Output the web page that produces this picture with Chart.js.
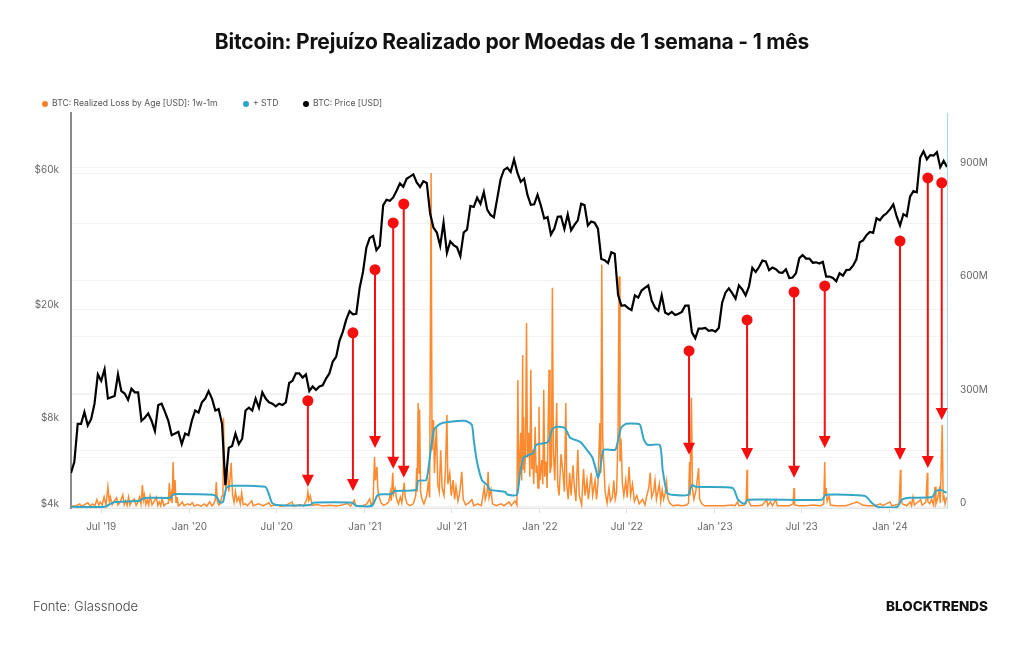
<!DOCTYPE html>
<html lang="pt">
<head>
<meta charset="UTF-8" />
<title>Bitcoin: Prejuízo Realizado por Moedas de 1 semana - 1 mês</title>
<script src="https://cdn.jsdelivr.net/npm/chart.js"></script>
<style>
  body { margin: 0; background: #fff; font-family: Inter, "Noto Sans", sans-serif; }
  #wrap { position: relative; width: 1024px; height: 645px; overflow: hidden; }
  #chart { position: absolute; left: 0; top: 0; }
  #title { position: absolute; top: 29px; left: 0; width: 1024px; text-align: center;
           font-size: 21px; font-weight: 700; color: #111; letter-spacing: -0.2px; }
  .leg { position: absolute; top: 98px; font-size: 8.6px; color: #555; white-space: nowrap; line-height: 10px; }
  .leg i { display: inline-block; width: 6px; height: 6px; border-radius: 50%; margin-right: 4px; vertical-align: -0.5px; }
  #source { position: absolute; left: 33px; top: 598px; font-size: 13px; color: #444; font-weight: 300; }
  #brand { position: absolute; right: 36px; top: 598px; font-size: 13.5px; color: #111; font-weight: 800; }
</style>
</head>
<body>
<div id="wrap">
  <canvas id="chart" width="1024" height="645"></canvas>
  <div id="title">Bitcoin: Prejuízo Realizado por Moedas de 1 semana - 1 mês</div>
  <div class="leg" style="left:42px"><i style="background:#f7822d"></i>BTC: Realized Loss by Age [USD]: 1w-1m</div>
  <div class="leg" style="left:243px"><i style="background:#2fa3c5"></i>+ STD</div>
  <div class="leg" style="left:303px"><i style="background:#000"></i>BTC: Price [USD]</div>
  <div id="source">Fonte: Glassnode</div>
  <div id="brand">BLOCKTRENDS</div>
</div>

<script>
// BTC price, weekly from 2019-04-29 (USD)
const priceStart = '2019-04-29';
const priceStepDays = 7;
const price = [
  5300, 5800, 7900, 7900, 8700, 7800, 8200, 9300, 11800, 11200, 12300, 9700, 9800, 9900,
  11800, 10300, 10100, 9600, 10500, 10200, 10200, 8100, 8300, 8600, 8100, 7450, 9200,
  9300, 8700, 8100, 7200, 7300, 7400, 6700, 7300,
  // 2020
  7200, 8100, 8800, 8650, 9400, 9700, 10300, 9700, 8800, 8900, 7900, 4800, 6500, 6600,
  7300, 6700, 7000, 8800, 9000, 8800, 9700, 9000, 10200, 9700, 9400, 9300, 9100,
  9300, 9200, 9400, 11000, 11200, 11900, 11900, 11500, 11800, 10300, 10700, 10400, 10700,
  10800, 11400, 11900, 13100, 13600, 15500, 16700, 18400, 19700, 19200, 19300, 23800, 27100,
  // 2021
  33000, 35700, 36300, 32300, 33500, 46500, 48700, 48300, 49600, 52400, 55600, 54100, 57700,
  58700, 59800, 56000, 54000, 56600, 55800, 43500, 38800, 37300, 33500, 40500, 31600, 34700,
  33700, 33100, 30800, 37300, 38200, 46300, 45900, 49500, 47100, 51800, 44900, 43000, 42200,
  49200, 57500, 62000, 63100, 61000, 67500, 60600, 56300, 57800, 50600, 46700, 46900, 50700,
  // 2022
  46400, 41800, 42300, 36700, 38500, 42400, 42500, 38400, 43200, 38000, 39700, 41200, 47100,
  46600, 39500, 40800, 40400, 38500, 30100, 29800, 29100, 31800, 31400, 22500, 20600, 20700,
  20200, 19900, 22400, 22000, 23300, 23800, 24300, 21500, 20300, 19800, 22400, 19500, 19200,
  19600, 19100, 19300, 19600, 20600, 20600, 16600, 15800, 17100, 17100, 17200, 16800, 16900,
  // 2023
  16700, 17200, 21100, 22900, 23700, 22800, 21800, 24300, 23500, 22400, 24100, 28000, 27100,
  28200, 29700, 29500, 27500, 28100, 27700, 27000, 26900, 27700, 25800, 25900, 26800, 30300,
  31100, 30200, 30200, 29200, 29300, 29000, 29400, 26100, 26100, 25800, 25100, 26800, 26300,
  27500, 27600, 28500, 30000, 34500, 35000, 36500, 37500, 37200, 41900, 41200, 42700, 43600,
  // 2024
  45000, 46900, 42500, 39500, 43300, 42600, 49900, 52200, 51700, 68400, 72100, 67600, 69900,
  69700, 71600, 63400, 66800, 63500
];

// Realized loss by age 1w-1m (USD millions), [date, value]
const lossPoints = [
  ['2019-04-29',2],['2019-05-10',3],['2019-05-17',8],['2019-05-21',2],['2019-05-26',5],['2019-06-03',11],
  ['2019-06-08',3],['2019-06-13',8],['2019-06-18',3],['2019-06-22',19],['2019-06-26',5],['2019-06-29',13],
  ['2019-07-03',5],['2019-07-07',26],['2019-07-11',5],['2019-07-15',53],['2019-07-18',14],['2019-07-20',26],
  ['2019-07-24',6],['2019-07-27',13],['2019-08-02',24],['2019-08-05',5],['2019-08-09',11],['2019-08-15',32],
  ['2019-08-18',6],['2019-08-21',16],['2019-08-24',4],['2019-08-27',26],['2019-08-30',5],['2019-09-02',13],
  ['2019-09-08',21],['2019-09-12',4],['2019-09-15',11],['2019-09-19',26],['2019-09-22',8],['2019-09-25',58],
  ['2019-09-27',18],['2019-09-29',32],['2019-10-02',6],['2019-10-05',19],['2019-10-08',5],['2019-10-11',29],
  ['2019-10-15',5],['2019-10-18',11],['2019-10-24',26],['2019-10-27',4],['2019-10-30',13],['2019-11-02',3],
  ['2019-11-05',21],['2019-11-09',3],['2019-11-13',8],['2019-11-18',10],['2019-11-20',64],['2019-11-22',15],
  ['2019-11-24',34],['2019-11-26',10],['2019-11-28',119],['2019-11-30',30],['2019-12-02',71],['2019-12-04',12],
  ['2019-12-06',26],['2019-12-09',3],['2019-12-12',5],['2019-12-17',13],['2019-12-21',3],['2019-12-28',8],
  ['2020-01-02',5],['2020-01-07',11],['2020-01-11',2],['2020-01-18',6],['2020-01-25',2],['2020-02-01',8],
  ['2020-02-06',2],['2020-02-12',13],['2020-02-17',3],['2020-02-21',8],['2020-02-24',20],['2020-02-26',66],
  ['2020-02-28',16],['2020-03-02',5],['2020-03-05',8],['2020-03-09',29],['2020-03-11',40],['2020-03-12',236],
  ['2020-03-14',90],['2020-03-17',48],['2020-03-20',110],['2020-03-23',40],['2020-03-26',80],['2020-03-28',117],
  ['2020-03-31',32],['2020-04-03',12],['2020-04-06',40],['2020-04-09',15],['2020-04-13',26],['2020-04-16',8],
  ['2020-04-19',37],['2020-04-22',6],['2020-04-27',8],['2020-05-01',3],['2020-05-10',16],['2020-05-13',3],
  ['2020-05-24',8],['2020-06-03',3],['2020-06-15',11],['2020-06-19',2],['2020-06-28',6],['2020-07-10',2],
  ['2020-07-20',4],['2020-08-02',13],['2020-08-05',2],['2020-08-19',6],['2020-08-26',2],['2020-09-02',20],
  ['2020-09-04',40],['2020-09-06',18],['2020-09-09',29],['2020-09-13',4],['2020-09-24',6],['2020-10-05',2],
  ['2020-10-20',4],['2020-11-03',2],['2020-11-26',9],['2020-12-02',2],['2020-12-10',18],['2020-12-13',2],
  ['2020-12-28',3],['2021-01-05',8],['2021-01-11',21],['2021-01-14',5],['2021-01-18',13],['2021-01-21',132],
  ['2021-01-23',70],['2021-01-26',106],['2021-01-28',45],['2021-01-31',24],['2021-02-04',10],['2021-02-09',4],
  ['2021-02-15',8],['2021-02-20',13],['2021-02-23',40],['2021-02-25',16],['2021-02-28',90],['2021-03-02',35],
  ['2021-03-05',48],['2021-03-08',21],['2021-03-12',8],['2021-03-16',26],['2021-03-19',11],['2021-03-24',64],
  ['2021-03-26',25],['2021-03-30',8],['2021-04-05',3],['2021-04-12',8],['2021-04-17',30],['2021-04-19',103],
  ['2021-04-20',40],['2021-04-22',275],['2021-04-24',90],['2021-04-25',258],['2021-04-27',40],['2021-04-30',20],
  ['2021-05-04',8],['2021-05-10',30],['2021-05-13',64],['2021-05-16',25],['2021-05-19',884],['2021-05-21',150],
  ['2021-05-24',230],['2021-05-26',90],['2021-05-30',212],['2021-06-02',60],['2021-06-05',40],['2021-06-08',150],
  ['2021-06-11',50],['2021-06-15',30],['2021-06-18',100],['2021-06-21',244],['2021-06-23',60],['2021-06-27',90],
  ['2021-06-30',30],['2021-07-04',71],['2021-07-07',20],['2021-07-10',53],['2021-07-14',15],['2021-07-18',40],
  ['2021-07-22',93],['2021-07-25',20],['2021-07-30',5],['2021-08-05',10],['2021-08-12',19],['2021-08-16',3],
  ['2021-08-24',8],['2021-09-01',3],['2021-09-07',53],['2021-09-09',20],['2021-09-13',40],['2021-09-15',93],
  ['2021-09-17',25],['2021-09-21',45],['2021-09-24',8],['2021-10-02',3],['2021-10-12',8],['2021-10-18',3],
  ['2021-10-29',13],['2021-11-02',3],['2021-11-10',16],['2021-11-14',5],['2021-11-16',336],['2021-11-18',60],
  ['2021-11-20',120],['2021-11-22',196],['2021-11-24',70],['2021-11-26',402],['2021-11-27',100],['2021-11-28',238],
  ['2021-11-30',90],['2021-12-02',150],['2021-12-04',487],['2021-12-06',130],['2021-12-09',196],['2021-12-11',80],
  ['2021-12-13',363],['2021-12-15',100],['2021-12-17',151],['2021-12-19',60],['2021-12-22',212],['2021-12-24',90],
  ['2021-12-26',110],['2021-12-28',50],['2021-12-30',265],['2022-01-01',70],['2022-01-05',124],['2022-01-07',60],
  ['2022-01-09',310],['2022-01-11',80],['2022-01-14',120],['2022-01-16',50],['2022-01-20',363],['2022-01-22',90],
  ['2022-01-25',110],['2022-01-27',580],['2022-01-29',150],['2022-02-01',70],['2022-02-05',275],['2022-02-07',60],
  ['2022-02-10',30],['2022-02-14',140],['2022-02-18',90],['2022-02-21',40],['2022-02-24',275],['2022-02-26',60],
  ['2022-03-01',20],['2022-03-04',90],['2022-03-07',30],['2022-03-11',110],['2022-03-14',50],['2022-03-17',15],
  ['2022-03-21',151],['2022-03-24',30],['2022-03-29',5],['2022-04-02',100],['2022-04-05',30],['2022-04-09',70],
  ['2022-04-12',20],['2022-04-18',90],['2022-04-21',30],['2022-04-26',70],['2022-04-29',20],['2022-05-02',60],
  ['2022-05-06',222],['2022-05-08',90],['2022-05-10',641],['2022-05-12',180],['2022-05-14',120],['2022-05-17',40],
  ['2022-05-21',10],['2022-05-25',50],['2022-05-28',15],['2022-06-01',25],['2022-06-04',70],['2022-06-07',20],
  ['2022-06-10',40],['2022-06-13',200],['2022-06-15',610],['2022-06-17',120],['2022-06-19',180],['2022-06-22',60],
  ['2022-06-25',30],['2022-06-29',70],['2022-07-02',25],['2022-07-06',106],['2022-07-09',30],['2022-07-13',60],
  ['2022-07-17',15],['2022-07-22',30],['2022-07-27',8],['2022-08-03',20],['2022-08-08',5],['2022-08-12',30],
  ['2022-08-16',50],['2022-08-19',90],['2022-08-22',25],['2022-08-26',40],['2022-08-29',70],['2022-09-01',20],
  ['2022-09-04',40],['2022-09-07',60],['2022-09-10',15],['2022-09-13',45],['2022-09-16',20],['2022-09-19',35],
  ['2022-09-22',66],['2022-09-25',20],['2022-09-29',10],['2022-10-05',3],['2022-10-15',5],['2022-10-25',3],
  ['2022-11-03',5],['2022-11-07',10],['2022-11-09',119],['2022-11-10',30],['2022-11-13',289],['2022-11-15',50],
  ['2022-11-18',20],['2022-11-22',40],['2022-11-28',103],['2022-11-30',20],['2022-12-05',8],['2022-12-10',3],
  ['2022-12-20',3],['2023-01-05',3],['2023-01-20',3],['2023-02-05',5],['2023-02-12',3],['2023-02-17',13],
  ['2023-02-20',3],['2023-03-03',5],['2023-03-07',10],['2023-03-09',98],['2023-03-10',20],['2023-03-13',13],
  ['2023-03-17',3],['2023-04-01',3],['2023-04-10',5],['2023-04-19',19],['2023-04-21',3],['2023-04-27',13],
  ['2023-05-01',3],['2023-05-08',19],['2023-05-11',3],['2023-05-20',3],['2023-06-05',3],['2023-06-13',8],
  ['2023-06-15',50],['2023-06-16',5],['2023-06-25',3],['2023-07-10',3],['2023-07-25',5],['2023-08-10',3],
  ['2023-08-16',8],['2023-08-18',119],['2023-08-19',30],['2023-08-21',50],['2023-08-23',15],['2023-08-27',29],
  ['2023-08-30',5],['2023-09-10',3],['2023-10-01',3],['2023-10-24',13],['2023-11-05',5],['2023-11-15',3],
  ['2023-12-01',3],['2023-12-12',8],['2023-12-17',3],['2024-01-01',13],['2024-01-05',3],['2024-01-12',5],
  ['2024-01-20',8],['2024-01-23',98],['2024-01-24',20],['2024-01-27',8],['2024-02-05',3],['2024-02-12',13],
  ['2024-02-15',3],['2024-02-18',26],['2024-02-21',5],['2024-03-05',19],['2024-03-08',5],['2024-03-12',8],
  ['2024-03-16',13],['2024-03-19',90],['2024-03-20',15],['2024-03-24',8],['2024-03-28',20],['2024-04-01',5],
  ['2024-04-04',53],['2024-04-06',8],['2024-04-09',20],['2024-04-13',45],['2024-04-15',10],['2024-04-19',217],
  ['2024-04-21',20],['2024-04-23',26],['2024-04-25',8],['2024-04-28',26]
];

// + STD (USD millions), [date, value]
const stdPoints = [
  ['2019-04-29',0],['2019-07-09',0],['2019-07-20',8],['2019-07-30',13],['2019-09-20',16],['2019-09-25',21],
  ['2019-10-07',24],['2019-11-22',24],['2019-11-28',32],['2019-12-04',34],['2020-02-19',32],['2020-02-27',26],
  ['2020-03-05',11],['2020-03-11',13],['2020-03-18',50],['2020-03-26',56],['2020-06-07',53],['2020-06-13',40],
  ['2020-06-21',11],['2020-06-30',5],['2020-09-09',5],['2020-09-15',11],['2020-12-05',11],['2020-12-14',3],
  ['2021-01-16',3],['2021-01-28',32],['2021-02-26',34],['2021-03-03',42],['2021-04-18',45],['2021-04-22',69],
  ['2021-05-09',71],['2021-05-17',138],['2021-05-25',204],['2021-06-07',220],['2021-06-23',225],['2021-07-29',228],
  ['2021-08-12',217],['2021-08-16',177],['2021-08-22',124],['2021-09-02',71],['2021-09-13',58],['2021-09-19',45],
  ['2021-10-20',40],['2021-10-26',32],['2021-11-14',32],['2021-11-20',85],['2021-11-28',130],['2021-12-18',143],
  ['2021-12-24',164],['2022-01-18',172],['2022-01-26',204],['2022-02-04',212],['2022-02-22',209],['2022-03-05',183],
  ['2022-03-26',172],['2022-04-09',151],['2022-04-20',132],['2022-04-28',98],['2022-05-02',77],['2022-05-06',93],
  ['2022-05-14',151],['2022-06-07',151],['2022-06-13',177],['2022-06-19',209],['2022-06-30',220],['2022-07-23',220],
  ['2022-07-29',217],['2022-08-06',177],['2022-08-14',164],['2022-09-08',164],['2022-09-14',98],['2022-09-23',37],
  ['2022-10-03',32],['2022-11-06',32],['2022-11-14',58],['2022-11-22',53],['2023-02-07',50],['2023-02-18',19],
  ['2023-03-03',8],['2023-03-11',19],['2023-08-12',19],['2023-08-20',32],['2023-11-10',29],['2023-11-24',11],
  ['2023-12-07',0],['2024-01-16',0],['2024-01-26',19],['2024-02-12',24],['2024-03-29',26],['2024-04-06',42],
  ['2024-04-16',45],['2024-04-28',37]
];

// red markers: date, dot level and arrow tip (right axis, USD millions)
const arrowDates = ['2020-09-04','2020-12-07','2021-01-22','2021-03-01','2021-03-23','2022-11-08',
                    '2023-03-09','2023-06-15','2023-08-18','2024-01-22','2024-03-20','2024-04-18'];
const arrowFrom = [281, 461, 628, 752, 802, 413, 495, 569, 585, 704, 871, 858];
const arrowTo   = [53, 42, 156, 101, 77, 138, 124, 77, 156, 124, 103, 230];

// axes
const xTickDates = ['2019-07-01','2020-01-01','2020-07-01','2021-01-01','2021-07-01','2022-01-01',
                    '2022-07-01','2023-01-01','2023-07-01','2024-01-01'];
const priceGrid = [4000, 6000, 8000, 10000, 20000, 40000, 60000];
const priceLabels = { 4000: '$4k', 8000: '$8k', 20000: '$20k', 60000: '$60k' };
const lossGrid = [0, 150, 300, 450, 600, 750, 900];
const lossLabels = { 0: '0', 300: '300M', 600: '600M', 900: '900M' };

const DAY = 86400000;
const t0 = Date.parse(priceStart);
const priceData = price.map((v, i) => ({ x: t0 + i * priceStepDays * DAY, y: v }));
const lossData = lossPoints.map(p => ({ x: Date.parse(p[0]), y: p[1] })).sort((a, b) => a.x - b.x);
const stdData = stdPoints.map(p => ({ x: Date.parse(p[0]), y: p[1] }));
const monthNames = ['Jan','Feb','Mar','Apr','May','Jun','Jul','Aug','Sep','Oct','Nov','Dec'];

const tickFont = { family: 'Inter', size: 10 };

const arrowPlugin = {
  id: 'arrows',
  afterDatasetsDraw(chart) {
    const { ctx } = chart;
    const xs = chart.scales.x, ys = chart.scales.y1;
    ctx.save();
    ctx.strokeStyle = '#f50f0f';
    ctx.fillStyle = '#f50f0f';
    ctx.lineWidth = 2;
    arrowDates.forEach((d, i) => {
      const px = xs.getPixelForValue(Date.parse(d));
      const top = ys.getPixelForValue(arrowFrom[i]);
      const tip = ys.getPixelForValue(arrowTo[i]);
      ctx.beginPath();
      ctx.moveTo(px, top);
      ctx.lineTo(px, tip - 10);
      ctx.stroke();
      ctx.beginPath();
      ctx.moveTo(px - 6, tip - 12);
      ctx.lineTo(px + 6, tip - 12);
      ctx.lineTo(px, tip);
      ctx.closePath();
      ctx.fill();
      ctx.beginPath();
      ctx.arc(px, top, 5.5, 0, Math.PI * 2);
      ctx.fill();
    });
    ctx.restore();
  }
};

new Chart(document.getElementById('chart'), {
  type: 'line',
  data: {
    datasets: [
      { label: 'BTC: Price [USD]', data: priceData, yAxisID: 'y', borderColor: '#000',
        borderWidth: 2.2, pointRadius: 0, tension: 0, order: 0 },
      { label: '+ STD', data: stdData, yAxisID: 'y1', borderColor: '#35a7c6',
        borderWidth: 2, pointRadius: 0, tension: 0.2, order: 1 },
      { label: 'BTC: Realized Loss by Age [USD]: 1w-1m', data: lossData, yAxisID: 'y1',
        borderColor: '#fd8a2f', borderWidth: 1.5, pointRadius: 0, tension: 0, order: 2 }
    ]
  },
  options: {
    responsive: false,
    animation: false,
    layout: { padding: { top: 113, bottom: 107, left: 0, right: 0 } },
    plugins: { legend: { display: false }, tooltip: { enabled: false } },
    scales: {
      x: {
        type: 'linear',
        min: Date.parse('2019-04-29'),
        max: Date.parse('2024-04-29'),
        afterBuildTicks: s => { s.ticks = xTickDates.map(d => ({ value: Date.parse(d) })); },
        afterFit: s => { s.height = 30; },
        ticks: {
          autoSkip: false, maxRotation: 0, padding: 8, color: '#666', font: tickFont,
          callback: v => {
            const d = new Date(v);
            return monthNames[d.getUTCMonth()] + " '" + String(d.getUTCFullYear()).slice(2);
          }
        },
        grid: { drawOnChartArea: false, drawTicks: true, tickLength: 5, tickColor: '#e0e0e0' },
        border: { color: '#e6e6e6', width: 1 }
      },
      y: {
        type: 'logarithmic',
        position: 'left',
        min: 3990,
        max: 98400,
        afterBuildTicks: s => { s.ticks = priceGrid.map(v => ({ value: v })); },
        afterFit: s => { s.width = 71; },
        ticks: { autoSkip: false, padding: 12, labelOffset: -4, color: '#666', font: tickFont,
                 callback: v => priceLabels[v] || '' },
        grid: { color: '#f3f3f3', drawTicks: false },
        border: { color: '#8c8c8c', width: 2 }
      },
      y1: {
        type: 'linear',
        position: 'right',
        min: -3,
        max: 1043,
        afterBuildTicks: s => { s.ticks = lossGrid.map(v => ({ value: v })); },
        afterFit: s => { s.width = 77; },
        ticks: { autoSkip: false, padding: 13, labelOffset: -4, color: '#666', font: tickFont,
                 callback: v => lossLabels[v] || '' },
        grid: { color: '#f3f3f3', drawTicks: false },
        border: { color: '#a8dbe9', width: 1 }
      }
    }
  },
  plugins: [arrowPlugin]
});
</script>
</body>
</html>
